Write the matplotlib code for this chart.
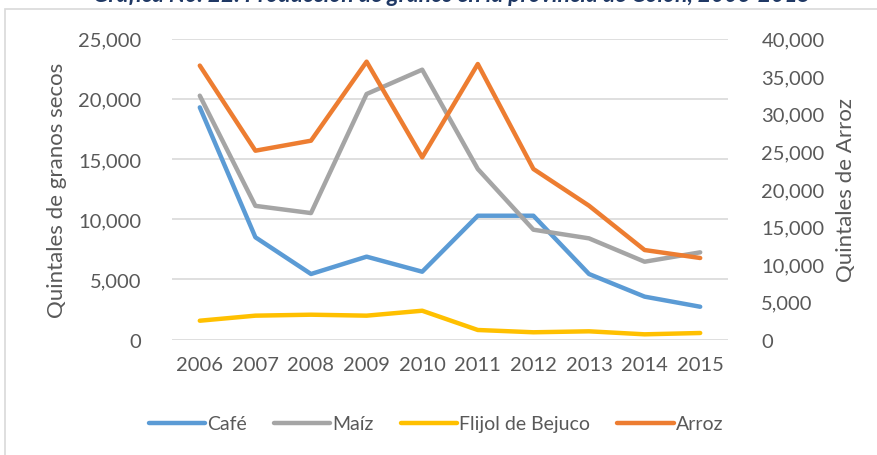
import matplotlib
matplotlib.use("Agg")
import matplotlib.pyplot as plt
from matplotlib.patches import Rectangle
from matplotlib.ticker import FuncFormatter

# data
years = ["2006", "2007", "2008", "2009", "2010", "2011", "2012", "2013", "2014", "2015"]
cafe = [19280, 8490, 5440, 6880, 5630, 10280, 10280, 5440, 3560, 2720]
maiz = [20250, 11100, 10500, 20390, 22410, 14160, 9120, 8400, 6460, 7240]
frijol = [1560, 1980, 2060, 1980, 2390, 790, 600, 680, 430, 540]
arroz = [36400, 25090, 26420, 36920, 24210, 36610, 22660, 17780, 11890, 10830]

left_ticks = [0, 5000, 10000, 15000, 20000, 25000]
right_ticks = [0, 5000, 10000, 15000, 20000, 25000, 30000, 35000, 40000]

text_color = "#595959"
plt.rcParams["font.family"] = ["Lato", "DejaVu Sans"]

W, H = 878, 456
fig = plt.figure(figsize=(W / 100, H / 100), dpi=100)

# chart frame (light gray border, partly off the picture)
fig.patches.append(Rectangle((5 / W, -0.1), 1.2, 1 - 10 / H + 0.1, transform=fig.transFigure,
                             fill=False, edgecolor="#D9D9D9", linewidth=1.2))

ax = fig.add_axes([172 / W, 115.5 / H, 556 / W, 301 / H])
ax2 = ax.twinx()

x = list(range(len(years)))
ax.plot(x, cafe, color="#5B9BD5", lw=3.2, label="Café", solid_capstyle="round", solid_joinstyle="round")
ax.plot(x, maiz, color="#A5A5A5", lw=3.2, label="Maíz", solid_capstyle="round", solid_joinstyle="round")
ax.plot(x, frijol, color="#FFC000", lw=3.2, label="Flijol de Bejuco", solid_capstyle="round", solid_joinstyle="round")
ax2.plot(x, arroz, color="#ED7D31", lw=3.2, label="Arroz", solid_capstyle="round", solid_joinstyle="round")

ax.set_xlim(-0.5, len(years) - 0.5)
ax.set_ylim(0, 25000)
ax2.set_ylim(0, 40000)
ax.set_yticks(left_ticks)
ax2.set_yticks(right_ticks)
ax.set_xticks(x)
ax.set_xticklabels(years)

fmt = FuncFormatter(lambda v, p: f"{int(v):,}")
ax.yaxis.set_major_formatter(fmt)
ax2.yaxis.set_major_formatter(fmt)

ax.grid(axis="y", color="#D9D9D9", lw=1.2)
ax.set_axisbelow(True)
for a in (ax, ax2):
    for s in a.spines.values():
        s.set_visible(False)
    a.tick_params(length=0, labelsize=14.5, colors=text_color)
ax.tick_params(axis="y", pad=22)
ax.tick_params(axis="x", pad=12)
ax2.tick_params(axis="y", pad=24)

ax.set_ylabel("Quintales de granos secos", fontsize=16, color=text_color, labelpad=8)
ax2.set_ylabel("Quintales de Arroz", fontsize=16, color=text_color, labelpad=8)

handles = ax.get_lines() + ax2.get_lines()
fig.legend(handles, [h.get_label() for h in handles], loc="center", ncol=4,
           bbox_to_anchor=(436 / W, 1 - 425 / H), frameon=False, fontsize=14,
           labelcolor=text_color, handlelength=2.9, handletextpad=0.1, columnspacing=1.4)

# title sits mostly above the picture, as in the reference
fig.text(452 / W, 1 - 1.5 / H, "Gráfica No. 22. Producción de granos en la provincia de Colón, 2006-2015",
         ha="center", va="baseline", fontsize=16.5, fontweight="bold", fontstyle="italic", color="#1F3864")

fig.savefig("out.png", dpi=100)
